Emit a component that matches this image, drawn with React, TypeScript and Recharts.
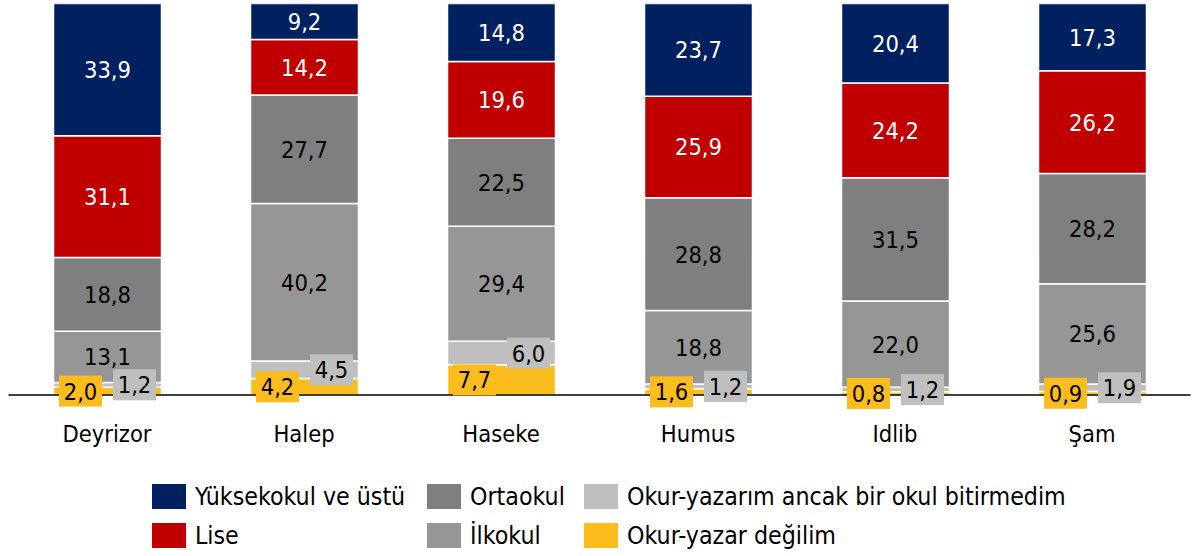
import React from 'react';
import { BarChart, Bar, XAxis, YAxis, LabelList } from 'recharts';

const categories = ['Deyrizor', 'Halep', 'Haseke', 'Humus', 'Idlib', 'Şam'];
const okurYazarDegil = [2.0, 4.2, 7.7, 1.6, 0.8, 0.9];
const okulBitirmedim = [1.2, 4.5, 6.0, 1.2, 1.2, 1.9];
const ilkokul = [13.1, 40.2, 29.4, 18.8, 22.0, 25.6];
const ortaokul = [18.8, 27.7, 22.5, 28.8, 31.5, 28.2];
const lise = [31.1, 14.2, 19.6, 25.9, 24.2, 26.2];
const yuksekokul = [33.9, 9.2, 14.8, 23.7, 20.4, 17.3];

const seriesNames = {
  degil: 'Okur-yazar değilim',
  bitirmedim: 'Okur-yazarım ancak bir okul bitirmedim',
  ilkokul: 'İlkokul',
  ortaokul: 'Ortaokul',
  lise: 'Lise',
  yuksek: 'Yüksekokul ve üstü',
};

const COLORS = {
  degil: '#FBBC1E',
  bitirmedim: '#BFBFBF',
  ilkokul: '#969696',
  ortaokul: '#7F7F7F',
  lise: '#C00000',
  yuksek: '#002060',
};

const data = categories.map((c, i) => ({
  name: c,
  degil: okurYazarDegil[i],
  bitirmedim: okulBitirmedim[i],
  ilkokul: ilkokul[i],
  ortaokul: ortaokul[i],
  lise: lise[i],
  yuksek: yuksekokul[i],
}));

const FONT = "Tahoma, 'DejaVu Sans Condensed', 'DejaVu Sans', sans-serif";
const FS = 23.5;

const fmt = (v: number) => v.toFixed(1).replace('.', ',');

const centerLabel = (color: string) => (props: any) => {
  const { x, y, width, height, value } = props;
  const cx = Number(x) + Number(width) / 2;
  const cy = Number(y) + Number(height) / 2;
  return (
    <text x={cx} y={cy + 8.5} textAnchor="middle" fill={color} fontFamily={FONT} fontSize={FS}>
      {fmt(Number(value))}
    </text>
  );
};

const boxLabel = (bg: string, dx: number) => (props: any) => {
  const { x, y, width, height, value } = props;
  const cx = Number(x) + Number(width) / 2 + dx;
  const cy = Number(y) + Number(height) / 2;
  return (
    <g>
      <rect x={cx - 21.5} y={cy - 15.5} width={43} height={31} fill={bg} />
      <text x={cx} y={cy + 8.5} textAnchor="middle" fill="#000" fontFamily={FONT} fontSize={FS}>
        {fmt(Number(value))}
      </text>
    </g>
  );
};

const CategoryTick = (props: any) => {
  const { x, y, payload } = props;
  return (
    <text x={x} y={Number(y) + 47} textAnchor="middle" fill="#000" fontFamily={FONT} fontSize={FS}>
      {payload.value}
    </text>
  );
};

const legendItems = [
  { key: 'yuksek', left: 152, top: 484 },
  { key: 'ortaokul', left: 427, top: 484 },
  { key: 'bitirmedim', left: 584, top: 484 },
  { key: 'lise', left: 152, top: 523 },
  { key: 'ilkokul', left: 427, top: 523 },
  { key: 'degil', left: 584, top: 523 },
];

const stackKeys = ['degil', 'bitirmedim', 'ilkokul', 'ortaokul', 'lise', 'yuksek'] as const;

export default function App() {
  return (
    <div style={{ position: 'relative', width: 1196, height: 556, background: '#fff' }}>
      <style>{`body{margin:0;}`}</style>
      <BarChart
        width={1196}
        height={556}
        data={data}
        margin={{ top: 3.5, right: 5.5, bottom: 131, left: 8.5 }}
      >
        <XAxis
          dataKey="name"
          height={30}
          tickLine={false}
          tickSize={0}
          tickMargin={0}
          axisLine={{ stroke: '#000', strokeWidth: 1.5 }}
          tick={<CategoryTick />}
          interval={0}
        />
        <XAxis dataKey="name" xAxisId="overlay" hide />
        <YAxis hide domain={[0, 100]} allowDataOverflow />
        {stackKeys.map((k) => (
          <Bar
            key={k}
            dataKey={k}
            name={seriesNames[k]}
            stackId="a"
            fill={COLORS[k]}
            stroke="#fff"
            strokeWidth={1.5}
            barSize={108}
            isAnimationActive={false}
          />
        ))}
        {stackKeys.map((k) => (
          <Bar
            key={'o' + k}
            dataKey={k}
            xAxisId="overlay"
            stackId="b"
            fill="transparent"
            stroke="none"
            barSize={108}
            isAnimationActive={false}
            legendType="none"
          >
            <LabelList
              dataKey={k}
              content={
                k === 'degil'
                  ? boxLabel(COLORS.degil, -27)
                  : k === 'bitirmedim'
                  ? boxLabel(COLORS.bitirmedim, 27)
                  : k === 'lise' || k === 'yuksek'
                  ? centerLabel('#fff')
                  : centerLabel('#000')
              }
            />
          </Bar>
        ))}
      </BarChart>
      {legendItems.map((it) => (
        <div
          key={it.key}
          style={{
            position: 'absolute',
            left: it.left,
            top: it.top,
            height: 25,
            display: 'flex',
            alignItems: 'center',
            whiteSpace: 'nowrap',
          }}
        >
          <div style={{ width: 34, height: 25, background: (COLORS as any)[it.key] }} />
          <span style={{ marginLeft: 9, fontFamily: FONT, fontSize: 24.7, color: '#000', lineHeight: '25px' }}>
            {(seriesNames as any)[it.key]}
          </span>
        </div>
      ))}
    </div>
  );
}
